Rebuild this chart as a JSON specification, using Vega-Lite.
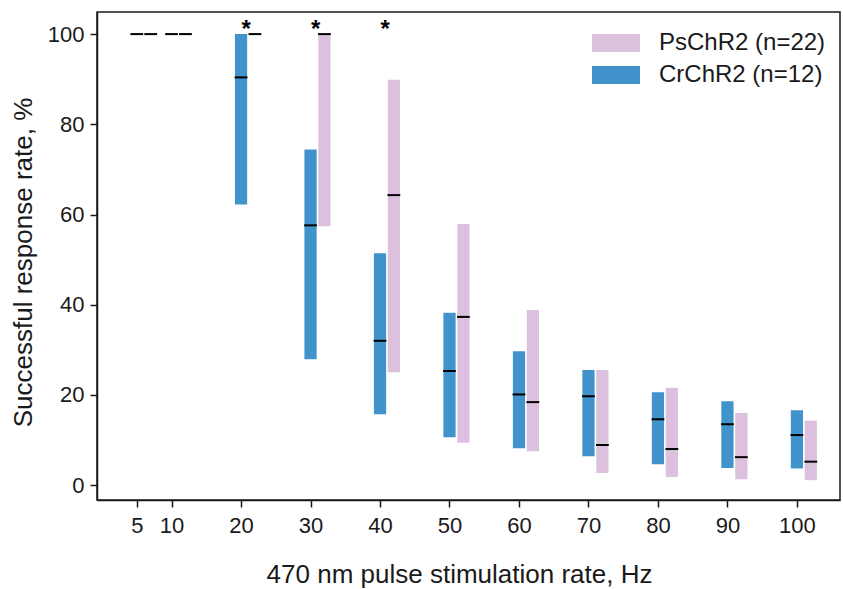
{
  "$schema": "https://vega.github.io/schema/vega-lite/v6.json",
  "width": 743,
  "height": 488,
  "autosize": {"type": "none"},
  "padding": {"left": 97, "top": 12, "right": 3, "bottom": 89},
  "background": "white",
  "config": {
    "font": "Liberation Sans",
    "view": {"stroke": "#1a1a1a", "strokeWidth": 1.5},
    "axis": {
      "grid": false,
      "domainColor": "#1a1a1a",
      "domainWidth": 1.5,
      "tickColor": "#1a1a1a",
      "tickWidth": 1.5,
      "tickSize": 7,
      "labelFontSize": 22,
      "labelColor": "#1a1a1a",
      "titleFontSize": 26,
      "titleFontWeight": "normal",
      "titleColor": "#1a1a1a"
    }
  },
  "data": {
    "values": [
      {"ch": "Cr", "freq": 5, "lo": 100, "hi": 100, "med": 100},
      {"ch": "Cr", "freq": 10, "lo": 100, "hi": 100, "med": 100},
      {"ch": "Cr", "freq": 20, "lo": 62.2, "hi": 100, "med": 90.4},
      {"ch": "Cr", "freq": 30, "lo": 27.9, "hi": 74.4, "med": 57.6},
      {"ch": "Cr", "freq": 40, "lo": 15.7, "hi": 51.4, "med": 32.0},
      {"ch": "Cr", "freq": 50, "lo": 10.6, "hi": 38.2, "med": 25.3},
      {"ch": "Cr", "freq": 60, "lo": 8.2, "hi": 29.7, "med": 20.1},
      {"ch": "Cr", "freq": 70, "lo": 6.4, "hi": 25.5, "med": 19.7},
      {"ch": "Cr", "freq": 80, "lo": 4.6, "hi": 20.6, "med": 14.6},
      {"ch": "Cr", "freq": 90, "lo": 3.8, "hi": 18.6, "med": 13.5},
      {"ch": "Cr", "freq": 100, "lo": 3.7, "hi": 16.6, "med": 11.1},
      {"ch": "Ps", "freq": 5, "lo": 100, "hi": 100, "med": 100},
      {"ch": "Ps", "freq": 10, "lo": 100, "hi": 100, "med": 100},
      {"ch": "Ps", "freq": 20, "lo": 100, "hi": 100, "med": 100},
      {"ch": "Ps", "freq": 30, "lo": 57.4, "hi": 100, "med": 100},
      {"ch": "Ps", "freq": 40, "lo": 25.0, "hi": 89.9, "med": 64.3},
      {"ch": "Ps", "freq": 50, "lo": 9.4, "hi": 57.9, "med": 37.3},
      {"ch": "Ps", "freq": 60, "lo": 7.5, "hi": 38.8, "med": 18.4},
      {"ch": "Ps", "freq": 70, "lo": 2.7, "hi": 25.5, "med": 8.9},
      {"ch": "Ps", "freq": 80, "lo": 1.8, "hi": 21.6, "med": 8.0},
      {"ch": "Ps", "freq": 90, "lo": 1.3, "hi": 16.0, "med": 6.2},
      {"ch": "Ps", "freq": 100, "lo": 1.1, "hi": 14.3, "med": 5.2}
    ]
  },
  "layer": [
    {
      "transform": [
        {"calculate": "datum.freq - 0.88 + (datum.ch == 'Ps' ? 2 : 0)", "as": "x1"},
        {"calculate": "datum.x1 + 1.76", "as": "x2"}
      ],
      "mark": {"type": "rect"},
      "encoding": {
        "x": {
          "field": "x1",
          "type": "quantitative",
          "scale": {"domain": [-0.73, 106.2], "nice": false, "zero": false},
          "axis": {
            "values": [5, 10, 20, 30, 40, 50, 60, 70, 80, 90, 100],
            "title": "470 nm pulse stimulation rate, Hz",
            "labelPadding": 8,
            "titlePadding": 25,
            "titleX": 362
          }
        },
        "x2": {"field": "x2"},
        "y": {
          "field": "lo",
          "type": "quantitative",
          "scale": {"domain": [-3.3, 104.9], "nice": false, "zero": false},
          "axis": {
            "values": [0, 20, 40, 60, 80, 100],
            "title": "Successful response rate, %",
            "labelPadding": 6,
            "titlePadding": 11,
            "titleY": 250
          }
        },
        "y2": {"field": "hi"},
        "color": {
          "field": "ch",
          "type": "nominal",
          "scale": {"domain": ["Ps", "Cr"], "range": ["#dcc1df", "#4193cb"]},
          "legend": {
            "title": null,
            "orient": "none",
            "legendX": 507,
            "legendY": 19,
            "padding": 0,
            "symbolType": "M-2.67,-1H2.67V1H-2.67Z",
            "symbolSize": 324,
            "symbolStrokeWidth": 0,
            "symbolOpacity": 1,
            "labelFontSize": 24,
            "labelLimit": 400,
            "labelColor": "#1a1a1a",
            "labelOffset": 31,
            "rowPadding": 8,
            "labelExpr": "datum.label == 'Ps' ? 'PsChR2 (n=22)' : 'CrChR2 (n=12)'"
          }
        }
      }
    },
    {
      "transform": [
        {"calculate": "datum.freq - 0.92 + (datum.ch == 'Ps' ? 2 : 0)", "as": "x1"},
        {"calculate": "datum.x1 + 1.84", "as": "x2"}
      ],
      "mark": {"type": "rule", "color": "black", "strokeWidth": 2},
      "encoding": {
        "x": {"field": "x1", "type": "quantitative"},
        "x2": {"field": "x2"},
        "y": {"field": "med", "type": "quantitative"}
      }
    },
    {
      "data": {"values": [{"freq": 20}, {"freq": 30}, {"freq": 40}]},
      "transform": [{"calculate": "datum.freq + 0.75", "as": "xs"}],
      "mark": {"type": "text", "text": "*", "fontSize": 24, "fontWeight": "bold", "color": "black", "baseline": "alphabetic", "align": "center"},
      "encoding": {
        "x": {"field": "xs", "type": "quantitative"},
        "y": {"datum": 99.4}
      }
    }
  ]
}
